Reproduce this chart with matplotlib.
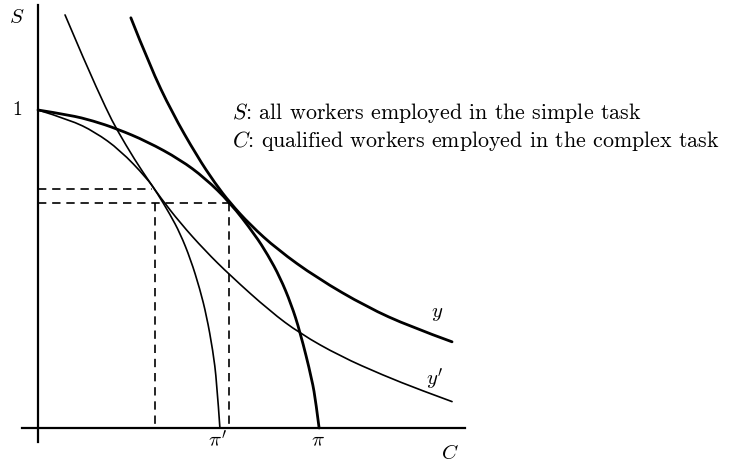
import matplotlib

matplotlib.use("Agg")

import matplotlib.pyplot as plt
from matplotlib.patches import PathPatch
from matplotlib.path import Path

plt.rcParams["mathtext.fontset"] = "cm"
plt.rcParams["axes.formatter.use_mathtext"] = True

# Production possibility frontier with the full qualified workforce (pi)
ppf_c = [0.000, 0.101, 0.173, 0.248, 0.343, 0.447, 0.525, 0.604, 0.682, 0.723,
         0.761, 0.796, 0.824, 0.862, 0.874, 0.884]
ppf_s = [1.000, 0.984, 0.966, 0.941, 0.901, 0.844, 0.786, 0.709, 0.608, 0.544,
         0.474, 0.390, 0.303, 0.151, 0.079, 0.000]

# Frontier with fewer qualified workers (pi')
ppf2_c = [0.000, 0.101, 0.179, 0.258, 0.343, 0.374, 0.415, 0.447, 0.480, 0.509,
          0.530, 0.550, 0.562, 0.572]
ppf2_s = [1.000, 0.969, 0.931, 0.874, 0.785, 0.740, 0.672, 0.612, 0.530, 0.437,
          0.353, 0.243, 0.147, 0.000]

# Output isoquants y (higher) and y' (lower)
y_c = [0.292, 0.352, 0.421, 0.500, 0.557, 0.604, 0.667, 0.752, 0.877, 1.035,
       1.170, 1.302]
y_s = [1.290, 1.138, 0.993, 0.855, 0.769, 0.708, 0.639, 0.562, 0.472, 0.380,
       0.319, 0.271]

y2_c = [0.085, 0.148, 0.217, 0.248, 0.305, 0.352, 0.384, 0.447, 0.525, 0.604,
        0.730, 0.824, 0.950, 1.085, 1.201, 1.302]
y2_s = [1.299, 1.150, 0.998, 0.938, 0.842, 0.772, 0.726, 0.645, 0.558, 0.480,
        0.367, 0.297, 0.226, 0.166, 0.120, 0.083]

# Equilibrium allocations
eq_hi = (0.358, 0.752)
eq_lo = (0.600, 0.708)
eq_lo_c2 = 0.368


def smooth_curve(ax, xs, ys, lw):
    """Draw a smooth quadratic-Bezier path using the points as control points."""
    pts = list(zip(xs, ys))
    verts = [pts[0]]
    codes = [Path.MOVETO]
    for i in range(1, len(pts) - 1):
        mid = ((pts[i][0] + pts[i + 1][0]) / 2, (pts[i][1] + pts[i + 1][1]) / 2)
        if i == len(pts) - 2:
            mid = pts[-1]
        verts += [pts[i], mid]
        codes += [Path.CURVE3, Path.CURVE3]
    ax.add_patch(PathPatch(Path(verts, codes), fill=False, edgecolor="black",
                           lw=lw, capstyle="round", joinstyle="round"))


fig = plt.figure(figsize=(7.45, 4.66), dpi=100)
ax = fig.add_axes([0, 0, 1, 1])
ax.set_xlim(-38 / 318, 707 / 318)
ax.set_ylim(-38 / 318, 428 / 318)
ax.axis("off")

k = "black"
# axes
ax.plot([0, 0], [-0.045, 1.33], color=k, lw=1.6)
ax.plot([-0.05, 1.343], [0, 0], color=k, lw=1.6)

smooth_curve(ax, ppf_c, ppf_s, 2.0)
smooth_curve(ax, y_c, y_s, 2.0)
smooth_curve(ax, ppf2_c, ppf2_s, 1.2)
smooth_curve(ax, y2_c, y2_s, 1.2)

dash = dict(color=k, lw=1.2, linestyle=(0, (5, 3.5)))
ax.plot([0, eq_hi[0]], [eq_hi[1], eq_hi[1]], **dash)
ax.plot([0, eq_lo[0]], [eq_lo[1], eq_lo[1]], **dash)
ax.plot([eq_lo_c2, eq_lo_c2], [eq_lo[1], 0], **dash)
ax.plot([eq_lo[0], eq_lo[0]], [eq_lo[1], 0], **dash)

fs = 15
ax.text(-0.066, 1.292, r"$S$", fontsize=fs, ha="center", va="center")
ax.text(-0.066, 1.0, "1", fontsize=fs - 1, ha="center", va="center", family="cmr10")
ax.text(0.566, -0.04, r"$\pi'$", fontsize=fs, ha="center", va="center")
ax.text(0.881, -0.04, r"$\pi$", fontsize=fs, ha="center", va="center")
ax.text(1.296, -0.079, r"$C$", fontsize=fs, ha="center", va="center")
ax.text(1.255, 0.362, r"$y$", fontsize=fs, ha="center", va="center")
ax.text(1.248, 0.154, r"$y'$", fontsize=fs, ha="center", va="center")

ax.text(0.610, 0.991, r"$S$: all workers employed in the simple task",
        fontsize=15.8, ha="left", va="center", family="cmr10")
ax.text(0.610, 0.903, r"$C$: qualified workers employed in the complex task",
        fontsize=15.8, ha="left", va="center", family="cmr10")

fig.savefig("out.png", dpi=100)
